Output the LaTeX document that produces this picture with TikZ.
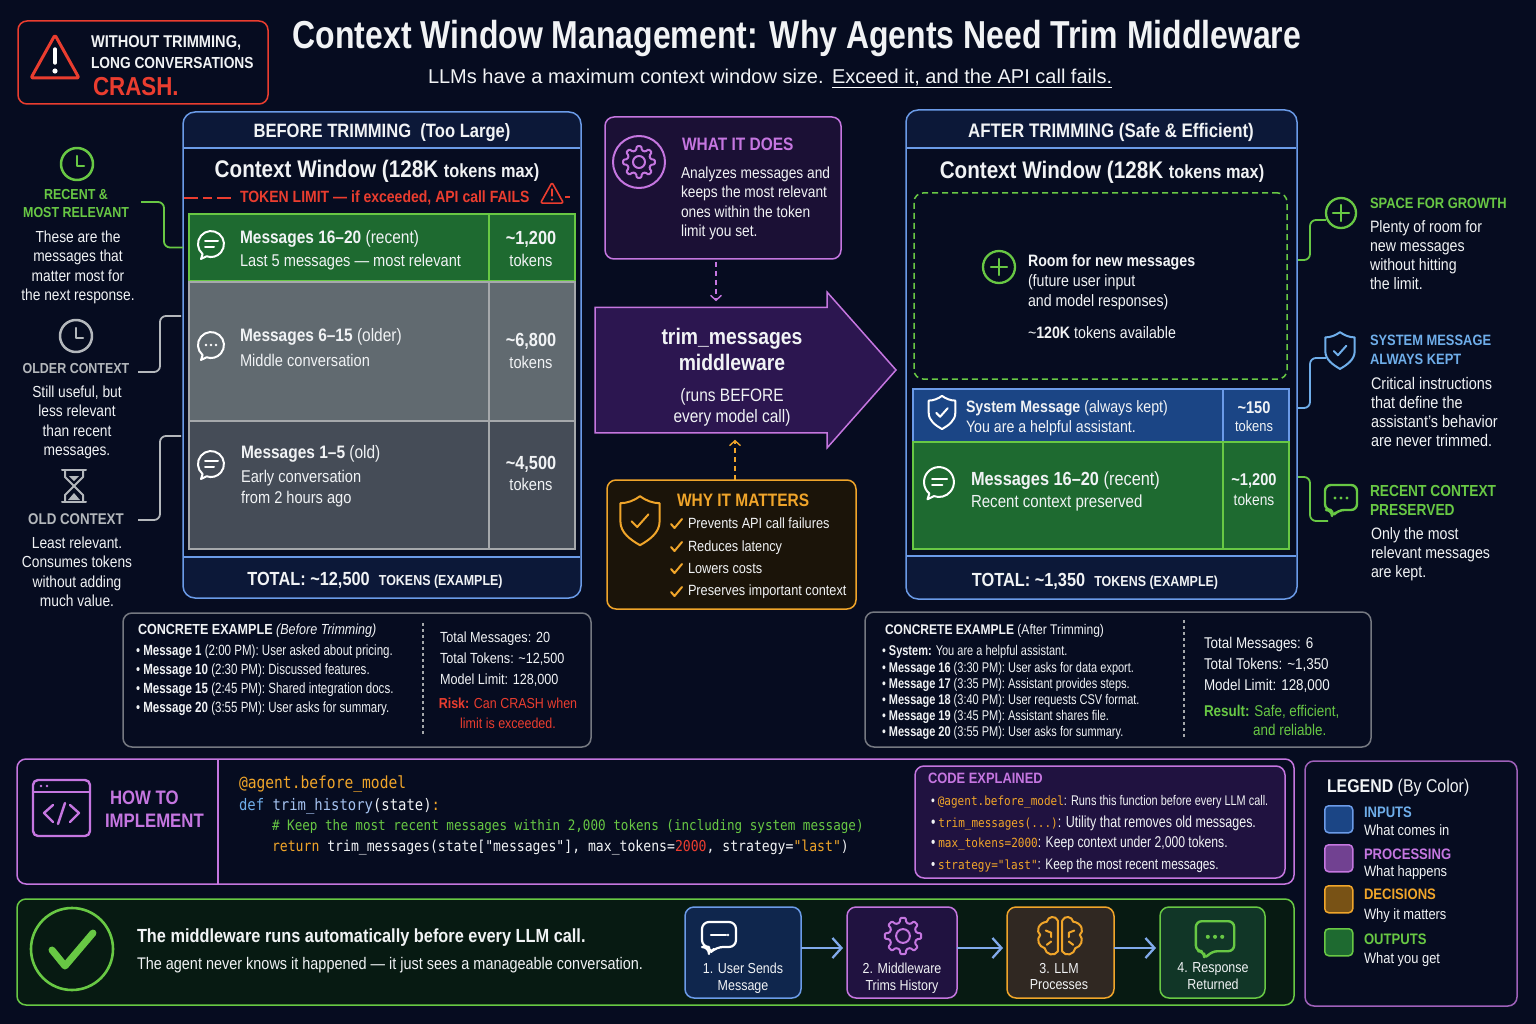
\documentclass[tikz,border=0pt]{standalone}
\usepackage{fontspec}
\setmainfont{Liberation Sans}[FakeStretch=0.86]
\newfontfamily\tallfont{Liberation Sans}[FakeStretch=0.78]
\newfontfamily\titlefont{Liberation Sans}[FakeStretch=0.82]
\newfontfamily\plainfont{Liberation Sans}
\setmonofont{DejaVu Sans Mono}[FakeStretch=0.875]
\usetikzlibrary{shapes,arrows,arrows.meta}
\usetikzlibrary{positioning}
\usetikzlibrary{calc}

\definecolor{bgc}{HTML}{060C20}
\definecolor{navy}{HTML}{0C1838}
\definecolor{bluel}{HTML}{6B9BE8}
\definecolor{bluet}{HTML}{6FAEEA}
\definecolor{bluef}{HTML}{1B4585}
\definecolor{greenl}{HTML}{68C844}
\definecolor{greenf}{HTML}{1E6A30}
\definecolor{grayl}{HTML}{A5A8AB}
\definecolor{grayf}{HTML}{616A70}
\definecolor{grayd}{HTML}{454C57}
\definecolor{grayt}{HTML}{B4B8BC}
\definecolor{purl}{HTML}{C576E0}
\definecolor{purf}{HTML}{1B1035}
\definecolor{purb}{HTML}{2C1650}
\definecolor{purc}{HTML}{201240}
\definecolor{orgl}{HTML}{F0A52A}
\definecolor{orgf}{HTML}{1B1409}
\definecolor{redl}{HTML}{EA3D2F}
\definecolor{txtw}{HTML}{F1F3F5}
\definecolor{autof}{HTML}{071A12}

\newcommand{\fz}[2]{\fontsize{#1}{#2}\selectfont}
\newcommand{\tl}{\textasciitilde}

\tikzstyle{panel} = [draw=bluel, fill=navy, line width=1.5pt, rounded corners=12pt, anchor=north west, inner sep=0, outer sep=0]
\tikzstyle{pbody} = [fill=bgc, anchor=north west, inner sep=0, outer sep=0]
\tikzstyle{cellg} = [draw=greenl, fill=greenf, line width=1.1pt, anchor=north west, inner sep=0, outer sep=0]
\tikzstyle{cella} = [draw=grayl, fill=grayf, line width=1.1pt, anchor=north west, inner sep=0, outer sep=0]
\tikzstyle{celld} = [draw=grayl, fill=grayd, line width=1.1pt, anchor=north west, inner sep=0, outer sep=0]
\tikzstyle{cellb} = [draw=bluel, fill=bluef, line width=1.1pt, anchor=north west, inner sep=0, outer sep=0]
\tikzstyle{box} = [line width=1.5pt, rounded corners=9pt, anchor=north west, inner sep=0, outer sep=0]
\tikzstyle{stepbox} = [line width=1.5pt, rounded corners=9pt, minimum height=91pt, inner sep=0, outer sep=0]
\tikzstyle{swatch} = [line width=1.5pt, rounded corners=4pt, minimum width=28pt, minimum height=27pt, anchor=north west, inner sep=0]
\tikzstyle{ln} = [inner sep=0, outer sep=0, anchor=base west, yshift=-6pt, text=txtw, font=\fz{17}{19}]
\tikzstyle{lc} = [inner sep=0, outer sep=0, anchor=base, yshift=-6pt, text=txtw, font=\fz{17}{19}]
\tikzstyle{para} = [inner sep=0, outer sep=0, anchor=north west, yshift=-2pt, align=left, text=txtw, font=\fz{16}{19.3}]
\tikzstyle{parc} = [inner sep=0, outer sep=0, anchor=north, yshift=-2pt, align=center, text=txtw, font=\fz{16}{19.3}]
\tikzstyle{small} = [para, font=\tallfont\fz{14.8}{19}]
\tikzstyle{codeln} = [inner sep=0, outer sep=0, anchor=base west, yshift=-5pt, text=txtw, font=\ttfamily\fz{15}{18}]
\tikzstyle{conn} = [line width=1.8pt, rounded corners=6pt]
\tikzstyle{dasharrow} = [line width=1.4pt, dash pattern=on 5pt off 4pt, -{Straight Barb[length=5pt,width=11pt]}]
\tikzstyle{flowarrow} = [draw=bluel!85!white, line width=2.3pt, -{Straight Barb[length=9pt,width=20pt]}]
\tikzstyle{icon} = [line width=2pt, line join=round, line cap=round]

% Icons
\newcommand{\chatlines}[4]{\begin{scope}[shift={(#1,#2)},scale=#4,icon,draw=#3]
\draw (-8.4,10) arc[start angle=130,end angle=470,radius=13] -- (-10,15) -- cycle;
\draw (-6,-3) -- (7,-3); \draw (-6,3) -- (3,3);
\end{scope}}
\newcommand{\chatdots}[3]{\begin{scope}[shift={(#1,#2)},icon,draw=#3]
\draw (-8.4,10) arc[start angle=130,end angle=470,radius=13] -- (-10,15) -- cycle;
\fill[#3] (-5,0) circle (1.4); \fill[#3] (0,0) circle (1.4); \fill[#3] (5,0) circle (1.4);
\end{scope}}
\newcommand{\sqbubble}[4]{\begin{scope}[shift={(#1,#2)},scale=#4,icon,line width=2.4pt,draw=#3]
\draw[rounded corners=6pt] (-16,-14) -- (16,-14) -- (16,11) -- (-3,11) -- (-9,18) -- (-9,11) -- (-16,11) -- cycle;
\fill[#3] (-6,-1) circle (1.7); \fill[#3] (0,-1) circle (1.7); \fill[#3] (6,-1) circle (1.7);
\end{scope}}
\newcommand{\clockicon}[3]{\begin{scope}[shift={(#1,#2)},icon,line width=2.5pt,draw=#3]
\draw (0,0) circle (16); \draw (0,-8) -- (0,2) -- (7,2);
\end{scope}}
\newcommand{\plusicon}[4]{\begin{scope}[shift={(#1,#2)},icon,line width=2.3pt,draw=#3]
\draw (0,0) circle (#4); \draw (-8,0) -- (8,0); \draw (0,-8) -- (0,8);
\end{scope}}
\newcommand{\shieldicon}[4]{\begin{scope}[shift={(#1,#2)},scale=#4,icon,draw=#3]
\draw (0,-17) .. controls (4,-14) and (9,-12) .. (14,-12) -- (14,1) .. controls (14,9) and (7,14) .. (0,18) .. controls (-7,14) and (-14,9) .. (-14,1) -- (-14,-12) .. controls (-9,-12) and (-4,-14) .. (0,-17) -- cycle;
\draw (-6,1) -- (-2,5) -- (6,-4);
\end{scope}}
\newcommand{\gearicon}[4]{\begin{scope}[shift={(#1,#2)},scale=#4,icon,draw=#3]
\draw[rounded corners=1pt] (-14:12) -- (-8:16) -- (8:16) -- (14:12) -- (31:12) -- (37:16) -- (53:16) -- (59:12) -- (76:12) -- (82:16) -- (98:16) -- (104:12) -- (121:12) -- (127:16) -- (143:16) -- (149:12) -- (166:12) -- (172:16) -- (188:16) -- (194:12) -- (211:12) -- (217:16) -- (233:16) -- (239:12) -- (256:12) -- (262:16) -- (278:16) -- (284:12) -- (301:12) -- (307:16) -- (323:16) -- (329:12) -- cycle;
\draw (0,0) circle (6);
\end{scope}}
\newcommand{\warnicon}[5]{\begin{scope}[shift={(#1,#2)},scale=#4,icon,draw=redl]
\draw[rounded corners=2pt,line width=#3] (0,-22) -- (24,21) -- (-24,21) -- cycle;
\draw[#5,line width=3.4pt*#4] (0,-8) -- (0,6); \fill[#5] (0,14) circle (2.6);
\end{scope}}
\newcommand{\tickmark}[2]{\draw[icon,draw=orgl,line width=2pt] (#1-5,#2) -- (#1-1.5,#2+4) -- (#1+6,#2-5);}

\begin{document}
\begin{tikzpicture}[x=1pt,y=-1pt,>=latex']
\useasboundingbox (0,0) rectangle (1536,1024);
\fill[bgc] (0,0) rectangle (1536,1024);

% Top banner
\node[box, draw=redl, minimum width=250pt, minimum height=83pt] (crash) at (18,21) {};
\warnicon{55}{57}{3pt}{1}{white}
\node[para, font=\bfseries\fz{16}{21}] (crashtxt) at (91,34) {{\fz{17}{21}WITHOUT TRIMMING,}\\LONG CONVERSATIONS};
\node[ln, text=redl, font=\bfseries\fz{26}{28}, yshift=-3pt] (crashred) at (93,87) {CRASH.};
\node[lc, font=\titlefont\bfseries\fz{39}{42}, yshift=-8pt] (title) at (797,35) {Context Window Management: Why Agents Need Trim Middleware};
\node[ln, font=\plainfont\fz{20}{22}, yshift=-2pt] (subone) at (428,76) {LLMs have a maximum context window size.};
\node[ln, font=\plainfont\fz{20}{22}, yshift=-2pt] (subtwo) at (832,76) {Exceed it, and the API call fails.};
\draw[white, line width=1.3pt] ([yshift=-1pt]subtwo.south west) -- ([yshift=-1pt]subtwo.south east);

% Before trimming panel
\node[panel, minimum width=398pt, minimum height=486pt] (before) at (183,112) {};
\node[pbody, minimum width=396.5pt, minimum height=409pt] (beforebody) at (183.8,148) {};
\draw[bluel, line width=1.5pt] (beforebody.north west) -- (beforebody.north east);
\draw[bluel, line width=1.5pt] (beforebody.south west) -- (beforebody.south east);
\node[lc, font=\bfseries\fz{19.3}{22}, yshift=-1pt] (beforehead) at (382,131) {BEFORE TRIMMING \ (Too Large)};
\node[lc, font=\bfseries\fz{24}{26}, yshift=-3pt] (beforewin) at (377,169) {Context Window (128K {\fz{19}{22}tokens max)}};
\node[ln, text=redl, font=\bfseries\fz{16.3}{20}] (limit) at (240,197) {TOKEN LIMIT — if exceeded, API call FAILS};
\draw[redl, line width=1.8pt, dash pattern=on 14pt off 5pt on 9pt off 5pt] (beforebody.west |- limit) -- ([xshift=-6pt]limit.west |- limit);
\warnicon{552}{193}{1.6pt}{0.48}{redl}
\coordinate (limitstart) at (565,197);
\coordinate (limitend) at (570,197);
\draw[redl, line width=1.6pt] (limitstart) -- (limitend);

% Rows before
\node[cellg, minimum width=300pt, minimum height=67pt] (rowg) at (189,214) {};
\node[cellg, minimum width=86pt, minimum height=67pt, right=0pt of rowg] (rowgtok) {};
\node[cella, minimum width=300pt, minimum height=139pt] (rowm) at (189,282) {};
\node[cella, minimum width=86pt, minimum height=139pt, right=0pt of rowm] (rowmtok) {};
\node[celld, minimum width=300pt, minimum height=128pt] (rowo) at (189,421) {};
\node[celld, minimum width=86pt, minimum height=128pt, right=0pt of rowo] (rowotok) {};
\chatlines{211}{244}{white}{1}
\chatdots{211}{345}{white}
\chatlines{211}{464}{white}{1}
\node[ln, font=\fz{18}{20}] (rg1) at (240,238) {\textbf{Messages 16–20} (recent)};
\node[ln] (rg2) at (240,260) {Last 5 messages — most relevant};
\node[lc, font=\bfseries\fz{19}{22}] (rg3) at (531,239) {\tl1,200};
\node[lc] (rg4) at (531,260) {tokens};
\node[ln, font=\fz{18}{20}] (rm1) at (240,335) {\textbf{Messages 6–15} (older)};
\node[ln] (rm2) at (240,360) {Middle conversation};
\node[lc, font=\bfseries\fz{19}{22}] (rm3) at (531,340) {\tl6,800};
\node[lc] (rm4) at (531,362) {tokens};
\node[ln, font=\fz{18}{20}] (ro1) at (241,452) {\textbf{Messages 1–5} (old)};
\node[para, font=\fz{17}{21}] (ro2) at (241,468) {Early conversation\\from 2 hours ago};
\node[lc, font=\bfseries\fz{19}{22}] (ro3) at (531,463) {\tl4,500};
\node[lc] (ro4) at (531,484) {tokens};
\node[lc, font=\bfseries\fz{19}{22}, yshift=-1pt] (beforetotal) at (375,578) {TOTAL: \tl12,500 \ {\fz{14.5}{18}TOKENS (EXAMPLE)}};

% Left column
\clockicon{77}{164}{greenl}
\node[parc, text=greenl, font=\bfseries\fz{14.5}{18}] (recenthead) at (76,187) {RECENT \&\\MOST RELEVANT};
\node[parc] (recentdesc) at (78,229) {These are the\\messages that\\matter most for\\the next response.};
\clockicon{76}{336}{grayt}
\node[parc, text=grayt, font=\bfseries\fz{14.5}{18}] (olderhead) at (76,361) {OLDER CONTEXT};
\node[parc] (olderdesc) at (77,384) {Still useful, but\\less relevant\\than recent\\messages.};
\begin{scope}[shift={(74,486)},icon,draw=grayt]
\draw (-12,-16) -- (12,-16); \draw (-12,16) -- (12,16);
\draw (-9,-16) -- (-9,-9) -- (9,9) -- (9,16); \draw (9,-16) -- (9,-9) -- (-9,9) -- (-9,16);
\fill[grayt] (-6,14) -- (6,14) -- (0,7) -- cycle; \fill[grayt] (-5,-10) -- (5,-10) -- (0,-5) -- cycle;
\end{scope}
\node[parc, text=grayt, font=\bfseries\fz{15.5}{18}] (oldhead) at (76,512) {OLD CONTEXT};
\node[parc] (olddesc) at (77,535) {Least relevant.\\Consumes tokens\\without adding\\much value.};
\coordinate (recentc) at (141,202);
\coordinate (olderc) at (138,372);
\coordinate (oldc) at (138,520);
\coordinate (olderr) at (181,316);
\coordinate (oldr) at (181,436);
\draw[conn, greenl] (recentc) -- ++(23,0) |- (before.west |- rowg);
\draw[conn, grayt] (olderc) -- ++(22,0) |- (olderr);
\draw[conn, grayt] (oldc) -- ++(22,0) |- (oldr);

% Middle column
\node[box, draw=purl, fill=purf, minimum width=236pt, minimum height=142pt] (what) at (605,117) {};
\draw[icon, purl] (639,162) circle (26);
\gearicon{639}{162}{purl}{1}
\node[ln, text=purl, font=\bfseries\fz{18}{20}] (whathead) at (682,145) {WHAT IT DOES};
\node[para] (whatdesc) at (681,165) {Analyzes messages and\\keeps the most relevant\\ones within the token\\limit you set.};
\node[draw=purl, fill=purb, line width=1.5pt, single arrow, single arrow head extend=15pt, single arrow tip angle=97, single arrow head indent=0pt, minimum height=301pt, inner sep=0, outer sep=0, anchor=tail] (trim) at (595,370) {\rule{0pt}{124pt}};
\node[lc, font=\bfseries\fz{22.5}{26}] (trimone) at (732,338) {trim\_messages};
\node[lc, font=\bfseries\fz{22.5}{26}] (trimtwo) at (732,364) {middleware};
\node[parc, font=\fz{18}{21}] (trimthree) at (732,386) {(runs BEFORE\\every model call)};
\draw[dasharrow, purl, shorten >=6pt] ([xshift=-7pt,yshift=-3pt]what.south) -- ([xshift=-7pt]what.south |- trim.north);
\node[box, draw=orgl, fill=orgf, minimum width=249pt, minimum height=129pt] (why) at (607,480) {};
\shieldicon{640}{520}{orgl}{1.4}
\node[ln, text=orgl, font=\bfseries\fz{18}{20}] (whyhead) at (677,500) {WHY IT MATTERS};
\node[para, font=\fz{14.8}{22.4}] (whylist) at (688,516) {Prevents API call failures\\Reduces latency\\Lowers costs\\Preserves important context};
\tickmark{676}{524}
\tickmark{676}{547}
\tickmark{676}{569}
\tickmark{676}{592}
\draw[dasharrow, orgl, shorten >=7pt] ([xshift=3.5pt]why.north) -- ([xshift=3.5pt]why.north |- trim.south);

% After trimming panel
\node[panel, minimum width=391pt, minimum height=489pt] (after) at (906,110) {};
\node[pbody, minimum width=389.5pt, minimum height=408pt] (afterbody) at (906.8,148) {};
\draw[bluel, line width=1.5pt] (afterbody.north west) -- (afterbody.north east);
\draw[bluel, line width=1.5pt] (afterbody.south west) -- (afterbody.south east);
\node[lc, font=\bfseries\fz{19.6}{22}, yshift=-1pt] (afterhead) at (1111,131) {AFTER TRIMMING (Safe \& Efficient)};
\node[lc, font=\bfseries\fz{24}{26}, yshift=-3pt] (afterwin) at (1102,170) {Context Window (128K {\fz{19}{22}tokens max)}};
\node[box, draw=greenl, dash pattern=on 6pt off 4pt, minimum width=373pt, minimum height=186pt] (room) at (914,193) {};
\plusicon{999}{267}{greenl}{16}
\node[para, font=\fz{16.5}{20}] (roomdesc) at (1028,253) {\textbf{Room for new messages}\\(future user input\\and model responses)};
\node[ln, font=\fz{16.5}{20}] (roomtok) at (1028,332) {\tl\textbf{120K} tokens available};
\node[cellb, minimum width=310pt, minimum height=53pt] (rowsys) at (913,389) {};
\node[cellb, minimum width=66pt, minimum height=53pt, right=0pt of rowsys] (rowsystok) {};
\node[cellg, minimum width=310pt, minimum height=107pt] (rowrec) at (913,442) {};
\node[cellg, minimum width=66pt, minimum height=107pt, right=0pt of rowrec] (rowrectok) {};
\shieldicon{942}{412}{white}{0.95}
\node[ln, font=\fz{16.5}{19}, yshift=1pt] (rs1) at (966,407) {\textbf{System Message} (always kept)};
\node[ln, font=\fz{16.5}{19}, yshift=1pt] (rs2) at (966,427) {You are a helpful assistant.};
\node[lc, font=\bfseries\fz{17}{20}, yshift=1pt] (rs3) at (1254,408) {\tl150};
\node[lc, font=\fz{15}{18}, yshift=1pt] (rs4) at (1254,426) {tokens};
\chatlines{939}{482}{white}{1.15}
\node[ln, font=\fz{19}{21}] (rr1) at (971,479) {\textbf{Messages 16–20} (recent)};
\node[ln, font=\fz{17.5}{20}, yshift=1pt] (rr2) at (971,502) {Recent context preserved};
\node[lc, font=\bfseries\fz{17}{20}, yshift=1pt] (rr3) at (1254,480) {\tl1,200};
\node[lc, font=\fz{16}{18}, yshift=1pt] (rr4) at (1254,500) {tokens};
\node[lc, font=\bfseries\fz{19}{22}, yshift=-1pt] (aftertotal) at (1095,579) {TOTAL: \tl1,350 \ {\fz{14.5}{18}TOKENS (EXAMPLE)}};

% Right column
\plusicon{1341}{213}{greenl}{15}
\node[ln, text=greenl, font=\bfseries\fz{15}{18}] (spacehead) at (1370,203) {SPACE FOR GROWTH};
\node[para, font=\fz{16.5}{19}] (spacedesc) at (1370,219) {Plenty of room for\\new messages\\without hitting\\the limit.};
\shieldicon{1340}{350}{bluet}{1.05}
\node[para, text=bluet, font=\bfseries\fz{15}{19}] (syshead) at (1370,333) {SYSTEM MESSAGE\\ALWAYS KEPT};
\node[para, font=\fz{16.8}{19.2}] (sysdesc) at (1371,375) {Critical instructions\\that define the\\assistant's behavior\\are never trimmed.};
\sqbubble{1341}{499}{greenl}{1}
\node[para, text=greenl, font=\bfseries\fz{16}{19}] (rechead) at (1370,483) {RECENT CONTEXT\\PRESERVED};
\node[para, font=\fz{16.5}{19}] (recdesc) at (1371,526) {Only the most\\relevant messages\\are kept.};
\coordinate (spacec) at (1326,220);
\coordinate (sysc) at (1326,358);
\coordinate (recc) at (1328,521);
\coordinate (spacer) at (1298,260);
\coordinate (sysr) at (1298,408);
\coordinate (recr) at (1298,477);
\draw[conn, greenl] (spacer) -- ++(12,0) |- (spacec);
\draw[conn, bluet] (sysr) -- ++(12,0) |- (sysc);
\draw[conn, greenl] (recr) -- ++(12,0) |- (recc);

% Concrete examples
\node[box, draw=grayl!70!bgc, minimum width=468pt, minimum height=134pt] (exbefore) at (123,613) {};
\node[ln, font=\fz{14.6}{18}, yshift=1pt] (exbhead) at (138,629) {\textbf{CONCRETE EXAMPLE} \textit{(Before Trimming)}};
\node[small] (exblist) at (136,642.5) {• \textbf{Message 1} (2:00 PM): User asked about pricing.\\• \textbf{Message 10} (2:30 PM): Discussed features.\\• \textbf{Message 15} (2:45 PM): Shared integration docs.\\• \textbf{Message 20} (3:55 PM): User asks for summary.};
\coordinate (exbtop) at (423,623);
\coordinate (exbbot) at (423,735);
\draw[grayl, line width=1.1pt, dashed] (exbtop) -- (exbbot);
\node[para, font=\fz{14.7}{21}] (exbstats) at (440,630) {Total Messages: 20\\Total Tokens: \tl12,500\\Model Limit: 128,000};
\node[parc, text=redl, font=\fz{14.5}{19.5}] (exbrisk) at (508,696) {\textbf{Risk:} Can CRASH when\\limit is exceeded.};

\node[box, draw=grayl!70!bgc, minimum width=506pt, minimum height=135pt] (exafter) at (865,612) {};
\node[ln, font=\fz{14}{18}, yshift=1pt] (exahead) at (885,629) {\textbf{CONCRETE EXAMPLE} (After Trimming)};
\node[small, font=\tallfont\fz{14.1}{16}] (exalist) at (882,643) {• \textbf{System:} You are a helpful assistant.\\[1.5pt]• \textbf{Message 16} (3:30 PM): User asks for data export.\\• \textbf{Message 17} (3:35 PM): Assistant provides steps.\\• \textbf{Message 18} (3:40 PM): User requests CSV format.\\• \textbf{Message 19} (3:45 PM): Assistant shares file.\\• \textbf{Message 20} (3:55 PM): User asks for summary.};
\coordinate (exatop) at (1184,620);
\coordinate (exabot) at (1184,739);
\draw[grayl, line width=1.1pt, dashed] (exatop) -- (exabot);
\node[para, font=\fz{15.6}{21}] (exastats) at (1204,635) {Total Messages: 6\\Total Tokens: \tl1,350\\Model Limit: 128,000};
\node[para, text=greenl, font=\fz{15.6}{19}] (exaresult) at (1204,703) {\textbf{Result:} Safe, efficient,\\\phantom{\textbf{Result:}} and reliable.};

% How to implement
\node[box, draw=purl, minimum width=1277pt, minimum height=125pt] (howto) at (17,759) {};
\coordinate (howtop) at (218,759);
\coordinate (howbot) at (218,884);
\draw[purl, line width=1.5pt] (howtop) -- (howbot);
\begin{scope}[icon,draw=purl,line width=2.4pt]
\draw[rounded corners=5pt] (33,780) rectangle (90,836);
\draw (33,792) -- (90,792);
\fill[purl] (41,786) circle (1.3); \fill[purl] (47,786) circle (1.3);
\draw (53,805) -- (44,813) -- (53,822);
\draw (70,805) -- (79,813) -- (70,822);
\draw (65,803) -- (58,824);
\end{scope}
\node[lc, text=purl, font=\bfseries\fz{19.5}{23}, anchor=base west] (howone) at (110,798) {HOW TO};
\node[lc, text=purl, font=\bfseries\fz{19.5}{23}, anchor=base west] (howtwo) at (105,821) {IMPLEMENT};
\node[codeln, text=orgl, font=\ttfamily\fz{16.7}{18}] (code1) at (239,783) {@agent.before\_model};
\node[codeln, font=\ttfamily\fz{15.9}{18}] (code2) at (239,805) {\textcolor{bluet}{def} \textcolor{bluel!60!white}{trim\_history}(state)\textcolor{orgl}{:}};
\node[codeln, text=greenl, font=\ttfamily\fz{14.4}{18}] (code3) at (272,825) {\# Keep the most recent messages within 2,000 tokens (including system message)};
\node[codeln] (code4) at (272,846) {\textcolor{orgl}{return} trim\_messages(state["messages"], max\_tokens=\textcolor{redl}{2000}, strategy=\textcolor{orgl}{"last"})};
\node[box, draw=purl, fill=purc, minimum width=370pt, minimum height=112pt] (explained) at (915,766) {};
\node[ln, text=purl, font=\bfseries\fz{15}{18}, yshift=1pt] (exphead) at (928,778) {CODE EXPLAINED};
\node[ln, font=\tallfont\fz{14}{17}, yshift=1pt] (exp1) at (931,800) {•\hspace{3pt}\textcolor{orgl}{\ttfamily\fz{12.6}{14}@agent.before\_model}: Runs this function before every LLM call.};
\node[ln, font=\tallfont\fz{16}{17}, yshift=1pt] (exp2) at (931,822) {•\hspace{3pt}\textcolor{orgl}{\ttfamily\fz{12.6}{14}trim\_messages(...)}: Utility that removes old messages.};
\node[ln, font=\tallfont\fz{15.6}{17}, yshift=1pt] (exp3) at (931,842) {•\hspace{3pt}\textcolor{orgl}{\ttfamily\fz{12.6}{14}max\_tokens=2000}: Keep context under 2,000 tokens.};
\node[ln, font=\tallfont\fz{15.2}{17}, yshift=1pt] (exp4) at (931,864) {•\hspace{3pt}\textcolor{orgl}{\ttfamily\fz{12.6}{14}strategy="last"}: Keep the most recent messages.};

% Bottom flow
\node[box, draw=greenl, fill=autof, minimum width=1277pt, minimum height=106pt] (auto) at (17,899) {};
\draw[icon, greenl, line width=2.6pt] (72,949) circle (41);
\draw[icon, greenl, line width=7pt] (52,950) -- (65,966) -- (93,933);
\node[ln, font=\bfseries\fz{19}{22}] (auto1) at (137,936) {The middleware runs automatically before every LLM call.};
\node[ln, font=\fz{16.8}{20}] (auto2) at (137,963) {The agent never knows it happened — it just sees a manageable conversation.};
\node[stepbox, draw=bluel, fill=bluef!45!bgc, minimum width=116pt] (step1) at (743,952.5) {};
\node[stepbox, draw=purl, fill=purc, minimum width=110pt, right=46pt of step1] (step2) {};
\node[stepbox, draw=orgl, fill=orgl!18!bgc, minimum width=107pt, right=50pt of step2] (step3) {};
\node[stepbox, draw=greenl, fill=greenf!45!bgc, minimum width=105pt, right=46pt of step3] (step4) {};
\begin{scope}[shift={(719,936)},icon,line width=2.2pt,draw=white]
\draw[rounded corners=7pt] (-17,-14) -- (17,-14) -- (17,11) -- (-3,11) -- (-10,18) -- (-10,11) -- (-17,11) -- cycle;
\draw (-8,-1) -- (7,-1); \fill[white] (9,-1) circle (1.4);
\end{scope}
\gearicon{903}{936}{purl}{1.15}
\begin{scope}[shift={(1060,936)},scale=1.1,icon,draw=orgl]
\draw (-2,-14) .. controls (-4,-19) and (-11,-18) .. (-12,-13) .. controls (-20,-12) and (-22,-4) .. (-18,-1) .. controls (-22,3) and (-19,10) .. (-14,11) .. controls (-13,17) and (-5,19) .. (-2,14) -- cycle;
\draw (2,-14) .. controls (4,-19) and (11,-18) .. (12,-13) .. controls (20,-12) and (22,-4) .. (18,-1) .. controls (22,3) and (19,10) .. (14,11) .. controls (13,17) and (5,19) .. (2,14) -- cycle;
\draw (-13,-5) -- (-8,-3) -- (-8,1); \draw (13,-5) -- (8,-3) -- (8,1); \draw (-12,8) -- (-8,5); \draw (12,8) -- (8,5);
\end{scope}
\sqbubble{1215}{938}{greenl}{1.2}
\node[parc, font=\fz{14.5}{16.5}] (step1txt) at (743,961) {1. User Sends\\Message};
\node[parc, font=\fz{14.5}{16.5}] (step2txt) at (902,961) {2. Middleware\\Trims History};
\node[parc, font=\fz{14.5}{16.5}] (step3txt) at (1059,961) {3. LLM\\Processes};
\node[parc, font=\fz{14.5}{16.5}] (step4txt) at (1213,961) {4. Response\\Returned};
\draw[flowarrow] ([yshift=4.5pt]step1.east) -- ([yshift=4.5pt,xshift=-4pt]step2.west);
\draw[flowarrow] ([yshift=4.5pt]step2.east) -- ([yshift=4.5pt,xshift=-4pt]step3.west);
\draw[flowarrow] ([yshift=4.5pt]step3.east) -- ([yshift=4.5pt,xshift=-4pt]step4.west);

% Legend
\node[box, draw=purl!80!bgc, minimum width=212pt, minimum height=245pt] (legend) at (1305,761) {};
\node[ln, font=\fz{18.5}{22}] (leghead) at (1327,786) {\textbf{LEGEND} (By Color)};
\node[swatch, draw=bluel, fill=bluef] (swin) at (1324,805) {};
\node[swatch, draw=purl, fill=purl!45!purb] (swpr) at (1324,844) {};
\node[swatch, draw=orgl, fill=orgl!50!black] (swde) at (1324,885) {};
\node[swatch, draw=greenl, fill=greenf] (swou) at (1324,928) {};
\node[ln, text=bluet, font=\bfseries\fz{15.2}{18}, yshift=1pt] (lin) at (1364,812) {INPUTS};
\node[ln, font=\fz{15}{18}, yshift=1pt] (lind) at (1364,830) {What comes in};
\node[ln, text=purl, font=\bfseries\fz{15.2}{18}, yshift=1pt] (lpr) at (1364,854) {PROCESSING};
\node[ln, font=\fz{15}{18}, yshift=1pt] (lprd) at (1364,871) {What happens};
\node[ln, text=orgl, font=\bfseries\fz{15.2}{18}, yshift=1pt] (lde) at (1364,894) {DECISIONS};
\node[ln, font=\fz{15}{18}, yshift=1pt] (lded) at (1364,914) {Why it matters};
\node[ln, text=greenl, font=\bfseries\fz{15.2}{18}, yshift=1pt] (lou) at (1364,939) {OUTPUTS};
\node[ln, font=\fz{15}{18}, yshift=1pt] (loud) at (1364,958) {What you get};
\end{tikzpicture}
\end{document}
